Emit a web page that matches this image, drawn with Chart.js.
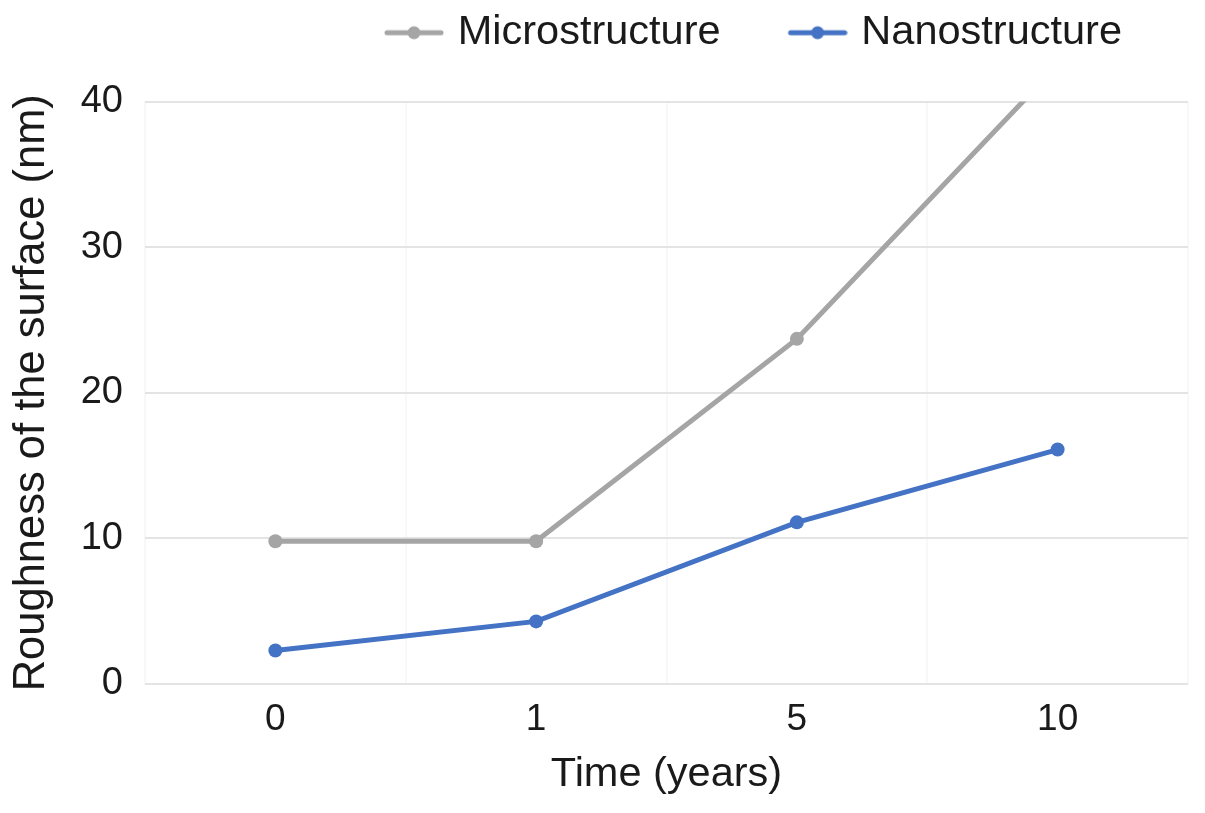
<!DOCTYPE html>
<html>
<head>
<meta charset="utf-8">
<script src="https://cdn.jsdelivr.net/npm/chart.js@4.4.1/dist/chart.umd.min.js"></script>
<style>
  html, body { margin: 0; padding: 0; background: #fff; }
  #wrap { width: 1205px; height: 813px; position: relative; }
</style>
</head>
<body>
<div id="wrap"><canvas id="myChart"></canvas></div>
<script>
const timeLabels = ['0', '1', '5', '10'];
const microValues = [9.8, 9.8, 23.7, 42.5];
const nanoValues = [2.3, 4.3, 11.1, 16.1];
const yTicks = [0, 10, 20, 30, 40];

const FONT = '"Liberation Sans", Arial, Helvetica, sans-serif';
const TEXT = '#1a1a1a';
const GREY = '#a5a5a5';
const BLUE = '#4472c4';

// line + dot icon for the legend
function makeIcon(color) {
    const c = document.createElement('canvas');
    c.width = 68;
    c.height = 16;
    const g = c.getContext('2d');
    g.strokeStyle = color;
    g.lineWidth = 5;
    g.lineCap = 'round';
    g.beginPath();
    g.moveTo(11, 8);
    g.lineTo(65, 8);
    g.stroke();
    g.fillStyle = color;
    g.beginPath();
    g.arc(38, 8, 6.5, 0, Math.PI * 2);
    g.fill();
    return c;
}

const legendSpacing = {
    id: 'legendSpacing',
    beforeInit(chart) {
        const fit = chart.legend.fit;
        chart.legend.fit = function() {
            fit.call(this);
            this.height += 38;
        };
    }
};

document.addEventListener('DOMContentLoaded', function() {
    const ctx = document.getElementById('myChart');
    const icons = [makeIcon(GREY), makeIcon(BLUE)];

    new Chart(ctx, {
        type: 'line',
        data: {
            labels: timeLabels,
            datasets: [{
                label: 'Microstructure',
                data: microValues,
                borderColor: GREY,
                backgroundColor: GREY,
                borderWidth: 5,
                pointRadius: 7,
                pointBackgroundColor: GREY,
                pointBorderWidth: 0,
                tension: 0,
                clip: 0
            }, {
                label: 'Nanostructure',
                data: nanoValues,
                borderColor: BLUE,
                backgroundColor: BLUE,
                borderWidth: 5,
                pointRadius: 7,
                pointBackgroundColor: BLUE,
                pointBorderWidth: 0,
                tension: 0,
                clip: 0
            }]
        },
        options: {
            responsive: true,
            maintainAspectRatio: false,
            animation: false,
            layout: {
                padding: { top: -54, right: 17, bottom: 0, left: 0 }
            },
            plugins: {
                tooltip: { enabled: false },
                legend: {
                    position: 'top',
                    align: 'end',
                    labels: {
                        usePointStyle: true,
                        pointStyleWidth: 54,
                        padding: 66,
                        color: TEXT,
                        font: { family: FONT, size: 41.5 },
                        generateLabels(chart) {
                            return chart.data.datasets.map((ds, i) => ({
                                text: ds.label,
                                fillStyle: ds.borderColor,
                                strokeStyle: ds.borderColor,
                                pointStyle: icons[i],
                                fontColor: TEXT,
                                datasetIndex: i
                            }));
                        }
                    }
                }
            },
            scales: {
                x: {
                    offset: true,
                    border: { display: false },
                    grid: { offset: true, color: '#f8f8f8', lineWidth: 2, drawTicks: false },
                    ticks: { color: TEXT, padding: 14, font: { family: FONT, size: 37 } },
                    title: {
                        display: true,
                        text: 'Time (years)',
                        color: TEXT,
                        font: { family: FONT, size: 41.5 },
                        padding: { top: 4, bottom: 14 }
                    },
                    afterFit(scale) { scale.height = 129; }
                },
                y: {
                    min: 0,
                    max: 40,
                    border: { display: false },
                    grid: { color: '#e4e4e4', lineWidth: 2, drawTicks: false },
                    afterBuildTicks(scale) {
                        scale.ticks = yTicks.map(v => ({ value: v }));
                    },
                    ticks: { color: TEXT, padding: 22, font: { family: FONT, size: 38 } },
                    title: {
                        display: true,
                        text: 'Roughness of the surface (nm)',
                        color: TEXT,
                        font: { family: FONT, size: 43.5 },
                        padding: { top: 6, bottom: 0 }
                    },
                    afterFit(scale) { scale.width = 145; }
                }
            }
        },
        plugins: [legendSpacing]
    });
});
</script>
</body>
</html>
